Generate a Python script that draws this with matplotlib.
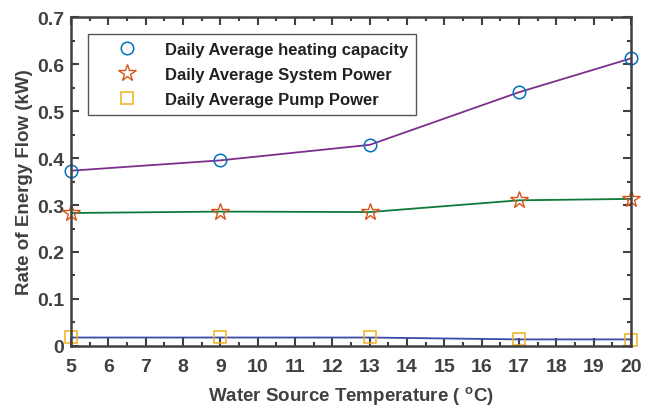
import numpy as np
import matplotlib.pyplot as plt

plt.rcParams['font.family'] = ['Liberation Sans', 'DejaVu Sans']
plt.rcParams['font.weight'] = 'bold'

temp = [5, 9, 13, 17, 20]
heating = [0.373, 0.395, 0.428, 0.540, 0.612]
system = [0.283, 0.286, 0.285, 0.310, 0.313]
pump = [0.020, 0.020, 0.020, 0.014, 0.013]
pump_line = [0.018, 0.018, 0.018, 0.014, 0.014]

grey = '#404040'

fig = plt.figure(figsize=(6.53, 4.10), dpi=100)
ax = fig.add_axes([0.1087, 0.1537, 0.8576, 0.8023])

ax.plot(temp, heating, color='#7E2F8E', lw=1.3)
ax.plot(temp, system, color='#0F7A3A', lw=1.3)
ax.plot(temp, pump_line, color='#3A4BA8', lw=1.3)

ax.plot(temp, heating, 'o', ms=9, mfc='none', mec='#0072BD', mew=1.1,
        label='Daily Average heating capacity', clip_on=False)
ax.plot(temp, system, '*', ms=13, mfc='none', mec='#D95319', mew=1.0,
        label='Daily Average System Power', clip_on=False)
ax.plot(temp, pump, 's', ms=8, mfc='none', mec='#EDB120', mew=1.1,
        label='Daily Average Pump Power', clip_on=False)

ax.set_xlim(5, 20)
ax.set_ylim(0, 0.7)
ax.set_xticks(range(5, 21))
ax.set_yticks(np.arange(0, 0.71, 0.1))
ax.set_yticklabels(['0', '0.1', '0.2', '0.3', '0.4', '0.5', '0.6', '0.7'])
ax.minorticks_on()
ax.xaxis.set_minor_locator(plt.MultipleLocator(0.5))
ax.yaxis.set_minor_locator(plt.MultipleLocator(0.05))
ax.tick_params(which='both', direction='in', top=True, right=True,
               color=grey, width=1.5)
ax.tick_params(which='major', length=6, labelsize=14, labelcolor=grey)
ax.tick_params(axis='x', which='major', pad=9)
ax.tick_params(axis='y', which='major', pad=5)
ax.tick_params(which='minor', length=3)
for s in ax.spines.values():
    s.set_color(grey)
    s.set_linewidth(1.8)

ax.set_xlabel('Water Source Temperature ( $^{\\mathregular{o}}$C)', fontsize=13.5,
              color=grey, fontweight='bold', labelpad=6)
ax.set_ylabel('Rate of Energy Flow (kW)', fontsize=13.5, color=grey,
              fontweight='bold', labelpad=3)

leg = ax.legend(loc='upper left', bbox_to_anchor=(0.03, 0.948), fontsize=12,
                fancybox=False, framealpha=1, edgecolor='#555555',
                borderpad=0.45, handletextpad=0.4, handlelength=3.8,
                labelspacing=0.62, borderaxespad=0)
leg.get_frame().set_linewidth(1.0)
for t in leg.get_texts():
    t.set_color('#222222')

fig.savefig('out.png', dpi=100)
